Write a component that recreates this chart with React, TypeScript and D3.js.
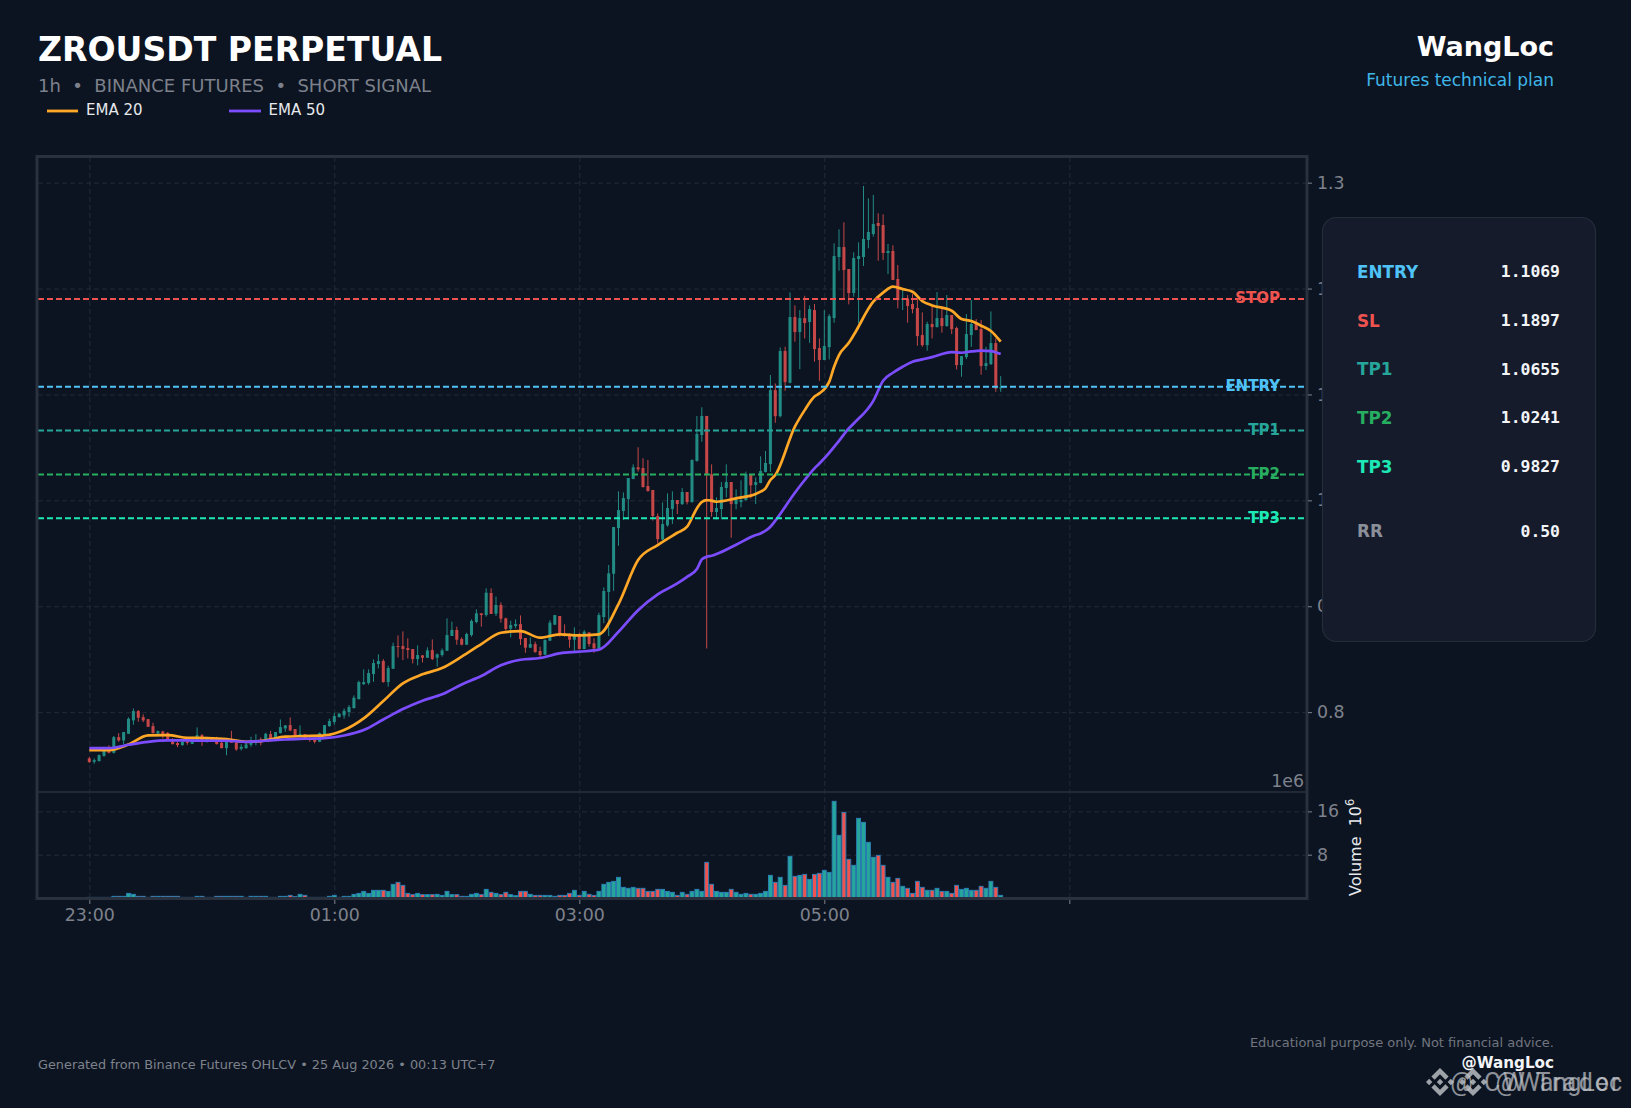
import { useEffect, useRef } from 'react';
import * as d3 from 'd3';

const opens = [.7563,.7531,.7538,.7588,.7667,.7616,.7764,.7733,.7796,.7922,.8010,.7953,.7934,.7868,.7799,.7818,.7805,.7723,.7708,.7689,.7723,.7701,.7736,.7783,.7736,.7749,.7727,.7711,.7660,.7742,.7714,.7654,.7660,.7692,.7714,.7727,.7736,.7793,.7752,.7802,.7846,.7878,.7840,.7768,.7793,.7752,.7742,.7720,.7793,.7868,.7906,.7953,.7969,.8001,.8038,.8123,.8265,.8275,.8360,.8454,.8483,.8284,.8410,.8624,.8624,.8605,.8596,.8501,.8536,.8514,.8586,.8514,.8539,.8580,.8719,.8776,.8690,.8637,.8728,.8851,.8933,.8917,.9125,.8930,.9012,.8886,.8788,.8813,.8832,.8700,.8609,.8643,.8577,.8542,.8675,.8826,.8908,.8744,.8728,.8684,.8728,.8596,.8753,.8650,.8602,.8898,.9135,.9307,.9738,.9899,1.0012,1.0201,1.0312,1.0305,1.0135,1.0098,.9852,.9631,.9764,.9918,1.0003,.9965,1.0079,.9984,1.0372,1.0617,1.0797,1.0246,.9890,.9918,1.0116,1.0173,.9965,.9984,1.0003,1.0239,1.0145,1.0164,1.0268,1.0342,1.1041,1.0795,1.1410,1.1110,1.1731,1.1589,1.1721,1.1684,1.1797,1.1438,1.1325,1.1447,1.1721,1.2298,1.2392,1.2184,1.1958,1.2279,1.2298,1.2459,1.2515,1.2619,1.2600,1.2336,1.2355,1.2090,1.1892,1.1907,1.1854,1.1816,1.1561,1.1466,1.1665,1.1636,1.1721,1.1646,1.1750,1.1627,1.1277,1.1353,1.1561,1.1665,1.1617,1.1268,1.1287,1.1485,1.1057];
const closes = [.7528,.7547,.7594,.7657,.7616,.7764,.7733,.7812,.7938,.8010,.7947,.7922,.7862,.7802,.7821,.7783,.7736,.7698,.7689,.7720,.7711,.7733,.7783,.7736,.7752,.7730,.7698,.7660,.7720,.7711,.7648,.7673,.7695,.7720,.7723,.7714,.7796,.7736,.7812,.7859,.7875,.7827,.7780,.7793,.7752,.7736,.7720,.7802,.7878,.7916,.7963,.7985,.8013,.8048,.8136,.8284,.8284,.8369,.8464,.8483,.8284,.8416,.8624,.8618,.8596,.8586,.8501,.8539,.8514,.8583,.8501,.8546,.8583,.8728,.8776,.8684,.8637,.8738,.8861,.8933,.8917,.9128,.8927,.9012,.8883,.8785,.8823,.8832,.8690,.8609,.8643,.8568,.8539,.8681,.8845,.8917,.8744,.8735,.8684,.8719,.8596,.8760,.8643,.8602,.8917,.9144,.9311,.9748,.9908,1.0022,1.0211,1.0312,1.0293,1.0126,1.0088,.9852,.9634,.9776,.9927,1.0003,.9965,1.0079,.9984,1.0381,1.0627,1.0797,1.0246,.9890,.9927,1.0126,1.0173,.9965,1.0003,1.0003,1.0249,1.0142,1.0173,1.0277,1.0353,1.1041,1.0795,1.1410,1.1117,1.1731,1.1589,1.1721,1.1674,1.1806,1.1428,1.1325,1.1457,1.1740,1.2307,1.2392,1.2175,1.1958,1.2288,1.2307,1.2468,1.2534,1.2610,1.2591,1.2336,1.2355,1.2081,1.1892,1.1907,1.1835,1.1806,1.1551,1.1466,1.1665,1.1636,1.1721,1.1646,1.1750,1.1617,1.1277,1.1362,1.1570,1.1665,1.1608,1.1268,1.1296,1.1485,1.1057,1.1066];
const highs = [.7579,.7563,.7601,.7673,.7686,.7774,.7802,.7812,.7950,.8035,.8020,.7979,.7934,.7900,.7827,.7824,.7812,.7755,.7723,.7736,.7752,.7768,.7856,.7793,.7768,.7755,.7768,.7736,.7752,.7824,.7736,.7698,.7720,.7768,.7793,.7761,.7805,.7824,.7812,.7931,.7878,.7950,.7840,.7875,.7793,.7768,.7768,.7808,.7878,.7938,.7994,.7994,.8035,.8067,.8158,.8297,.8404,.8404,.8498,.8546,.8501,.8438,.8656,.8725,.8763,.8697,.8596,.8631,.8539,.8612,.8687,.8555,.8602,.8886,.8854,.8807,.8706,.8750,.8876,.8971,.8933,.9169,.9169,.9091,.9037,.8892,.8864,.8876,.8914,.8700,.8706,.8665,.8618,.8687,.8867,.8917,.8908,.8829,.8744,.8801,.8750,.8776,.8753,.8697,.8939,.9179,.9390,.9748,1.0085,1.0075,1.0211,1.0340,1.0501,1.0397,1.0381,1.0098,.9877,.9981,1.0066,1.0085,1.0003,1.0116,1.0079,1.0387,1.0797,1.0879,1.0797,1.0340,1.0028,1.0173,1.0340,1.0173,1.0104,1.0189,1.0271,1.0239,1.0217,1.0416,1.0466,1.1183,1.1104,1.1444,1.1450,1.1964,1.1841,1.1797,1.1932,1.1841,1.1854,1.1529,1.1797,1.1759,1.2427,1.2559,1.2625,1.2184,1.2342,1.2436,1.2969,1.2852,1.2884,1.2711,1.2701,1.2421,1.2408,1.2222,1.1995,1.1939,1.1948,1.1932,1.1775,1.1687,1.1844,1.1967,1.1829,1.1939,1.1750,1.1640,1.1362,1.1759,1.1892,1.1712,1.1702,1.1450,1.1784,1.1529,1.1173];
const lows = [.7522,.7512,.7534,.7579,.7610,.7610,.7720,.7698,.7793,.7881,.7909,.7906,.7859,.7799,.7793,.7752,.7736,.7695,.7670,.7682,.7692,.7698,.7736,.7682,.7711,.7720,.7695,.7660,.7594,.7711,.7635,.7638,.7654,.7673,.7686,.7686,.7727,.7720,.7736,.7799,.7815,.7821,.7768,.7768,.7736,.7720,.7705,.7717,.7790,.7862,.7881,.7950,.7938,.7957,.8035,.8120,.8256,.8259,.8287,.8413,.8278,.8240,.8407,.8517,.8492,.8508,.8460,.8442,.8470,.8511,.8492,.8429,.8524,.8577,.8719,.8637,.8631,.8634,.8713,.8839,.8807,.8902,.8927,.8908,.8845,.8769,.8706,.8791,.8634,.8561,.8605,.8561,.8517,.8539,.8672,.8823,.8713,.8713,.8609,.8577,.8593,.8593,.8618,.8561,.8596,.8839,.8719,.9146,.9571,.9814,.9820,1.0201,1.0271,1.0120,1.0082,.9808,.9594,.9625,.9751,.9776,.9871,.9956,.9962,.9978,1.0365,1.0554,.8601,.9846,.9820,.9820,1.0028,.9647,.9915,.9934,.9997,1.0019,.9965,1.0161,1.0264,1.0269,1.0732,1.0783,1.1035,1.1104,1.1498,1.1239,1.1529,1.1488,1.1309,1.1129,1.1325,1.1331,1.1677,1.2169,1.1892,1.1851,1.1923,1.1671,1.2213,1.2380,1.2490,1.2263,1.2270,1.2137,1.2081,1.1813,1.1797,1.1677,1.1766,1.1460,1.1450,1.1413,1.1529,1.1633,1.1583,1.1640,1.1570,1.1236,1.1167,1.1334,1.1450,1.1608,1.1186,1.1230,1.1277,1.1025,1.1025];
// volume in millions
const volumes = [.12,.12,.12,.12,.12,.31,.31,.31,.86,.68,.31,.31,.12,.31,.31,.31,.31,.31,.31,.12,.12,.12,.31,.31,.12,.12,.31,.31,.31,.31,.31,.31,.12,.31,.31,.31,.31,.12,.12,.31,.31,.49,.25,.68,.49,.12,.12,.12,.12,.31,.49,.12,.31,.31,.68,.86,1.23,.86,1.42,1.42,1.42,1.23,2.53,2.90,2.34,.86,.62,.86,.62,.62,.62,.68,.49,1.23,.62,.62,.31,.31,.68,.86,.62,1.60,1.05,.86,.62,1.05,.62,.43,1.23,1.23,.68,.49,.49,.49,.49,.31,.49,.49,.86,1.42,.49,1.23,.68,.49,1.23,2.53,2.90,3.08,3.82,1.97,1.79,1.97,1.79,1.79,1.23,1.23,1.60,1.60,1.23,1.05,.49,1.05,.68,1.23,1.60,1.23,6.59,2.53,1.23,1.05,1.05,1.60,1.05,.68,.86,.68,.68,.86,1.23,4.19,2.90,3.82,2.34,7.70,4.00,4.19,4.37,3.45,4.37,4.56,5.11,4.74,17.86,11.58,15.83,7.15,6.04,14.72,13.98,10.29,7.52,7.88,6.04,3.82,2.90,3.63,2.16,1.79,.86,3.08,1.97,1.42,1.42,1.79,1.23,1.23,.86,2.34,1.60,1.79,1.42,1.42,2.16,1.79,3.08,1.97,.49];

const emaIndex = [0,4,8,12,16,20,24,28,32,36,40,44,48,52,56,60,64,68,72,76,80,84,88,92,96,100,104,108,112,116,120,122,124,125,126,127,128,132,136,137,138,139,140,144,146,148,149,151,152,153,155,156,160,162,164,166,168,170,172,176,178,180,182,184,186];
const ema20 = [.7642,.7642,.7695,.7780,.7783,.7758,.7755,.7745,.7720,.7733,.7768,.7774,.7780,.7831,.7941,.8105,.8272,.8357,.8416,.8524,.8643,.8750,.8766,.8703,.8735,.8725,.8735,.9020,.9436,.9578,.9694,.9751,.9924,.9984,1.0003,.9997,.9987,1.0019,1.0060,1.0082,1.0113,1.0192,1.0239,1.0696,1.0852,1.0980,1.1010,1.1120,1.1262,1.1372,1.1488,1.1561,1.1876,1.1961,1.2018,1.1995,1.1970,1.1882,1.1841,1.1791,1.1712,1.1693,1.1649,1.1599,1.1498];
const ema50 = [.7660,.7660,.7692,.7720,.7733,.7733,.7730,.7730,.7720,.7730,.7742,.7749,.7755,.7780,.7831,.7931,.8029,.8108,.8168,.8262,.8341,.8442,.8495,.8511,.8555,.8571,.8590,.8759,.8963,.9112,.9216,.9278,.9351,.9442,.9467,.9477,.9493,.9581,.9672,.9688,.9713,.9751,.9808,1.0072,1.0192,1.0302,1.0348,1.0449,1.0505,1.0562,1.0679,1.0726,1.0940,1.1129,1.1205,1.1262,1.1309,1.1331,1.1353,1.1400,1.1394,1.1406,1.1413,1.1410,1.1381];

const priceTicks = [0.8, 0.9, 1.0, 1.1, 1.2, 1.3];
const volumeTicks = [8, 16];
const timeTicks = [0, 50, 100, 150, 200];
const timeLabels = ['23:00', '01:00', '03:00', '05:00', ''];

const levelNames = ['STOP', 'ENTRY', 'TP1', 'TP2', 'TP3'];
const levelPrices = [1.1897, 1.1069, 1.0655, 1.0241, 0.9827];
const levelColors = ['#ef5350', '#4fc3f7', '#26a69a', '#27ae60', '#1de9b6'];

const panelLabels = ['ENTRY', 'SL', 'TP1', 'TP2', 'TP3', 'RR'];
const panelValues = ['1.1069', '1.1897', '1.0655', '1.0241', '0.9827', '0.50'];
const panelColors = ['#4fc3f7', '#ef5350', '#26a69a', '#27ae60', '#1de9b6', '#8b8f9a'];
const panelRows = [271.5, 320.5, 369, 417.5, 466.5, 531];

const BG = '#0d1421';
const UP = '#26a69a';
const DOWN = '#ef5350';
const LOGO = 'M38.73 53.2l24.59-24.58 24.6 24.6 14.3-14.31L63.32 0 24.42 38.9zM0 63.31l14.3-14.31 14.31 14.31-14.31 14.3zM38.73 73.41l24.59 24.59 24.6-24.6 14.31 14.29-38.9 38.91-38.91-38.88zM98 63.31l14.3-14.31 14.31 14.3-14.31 14.32zM77.83 63.3L63.32 48.78 52.59 59.51l-1.24 1.23-2.54 2.54 14.51 14.52L77.83 63.31z';

export default function App() {
  const svgRef = useRef<SVGSVGElement | null>(null);

  useEffect(() => {
    if (!svgRef.current) return;
    const svg = d3.select(svgRef.current);
    svg.selectAll('*').remove();

    const width = 1631;
    const height = 1108;
    const frame = { left: 37, right: 1307, top: 156.5, split: 792, bottom: 898 };
    const font = '"DejaVu Sans", sans-serif';

    svg.attr('viewBox', `0 0 ${width} ${height}`).style('font-family', font);
    svg.append('rect').attr('width', width).attr('height', height).attr('fill', BG);

    const x = d3.scaleLinear().domain([-10.47, 248.51]).range([38, 1307]);
    const y = d3.scaleLinear().domain([0.7246, 1.3247]).range([frame.split, frame.top]);
    const yVol = d3.scaleLinear().domain([0, 19.58]).range([frame.bottom, frame.split]);

    // grid
    const styleGrid = (g: any) => {
      g.select('.domain').remove();
      g.selectAll('line').attr('stroke', '#222a37').attr('stroke-width', 1).attr('stroke-dasharray', '5,3');
    };
    svg.append('g')
      .attr('transform', `translate(0,${frame.bottom})`)
      .call(d3.axisBottom(x).tickValues(timeTicks).tickSize(-(frame.bottom - frame.top)).tickFormat(() => ''))
      .call(styleGrid);
    svg.append('g')
      .attr('transform', `translate(${frame.right},0)`)
      .call(d3.axisLeft(y).tickValues(priceTicks).tickSize(frame.right - frame.left).tickFormat(() => ''))
      .call(styleGrid);
    svg.append('g')
      .attr('transform', `translate(${frame.right},0)`)
      .call(d3.axisLeft(yVol).tickValues(volumeTicks).tickSize(frame.right - frame.left).tickFormat(() => ''))
      .call(styleGrid);

    // candles
    const candles = svg.append('g').attr('opacity', 0.82);
    const bodyW = x(0.62) - x(0);
    opens.forEach((o, i) => {
      const c = closes[i];
      const color = c >= o ? UP : DOWN;
      candles.append('line')
        .attr('x1', x(i)).attr('x2', x(i))
        .attr('y1', y(highs[i])).attr('y2', y(lows[i]))
        .attr('stroke', color).attr('stroke-width', 1);
      candles.append('rect')
        .attr('x', x(i) - bodyW / 2)
        .attr('y', y(Math.max(o, c)))
        .attr('width', bodyW)
        .attr('height', Math.max(1, Math.abs(y(o) - y(c))))
        .attr('fill', color);
    });

    // volume bars
    const volW = x(0.8) - x(0);
    svg.append('g')
      .selectAll('rect')
      .data(volumes)
      .join('rect')
      .attr('x', (_, i) => x(i) - volW / 2)
      .attr('y', (d) => yVol(d))
      .attr('width', volW)
      .attr('height', (d) => yVol(0) - yVol(d))
      .attr('fill', (_, i) => (closes[i] >= opens[i] ? UP : DOWN))
      .attr('stroke', '#2a80b9')
      .attr('stroke-width', 0.9);

    // EMAs
    const emaLine = d3.line<number>()
      .x((_, i) => x(emaIndex[i]))
      .y((d) => y(d))
      .curve(d3.curveMonotoneX);
    svg.append('path').attr('d', emaLine(ema20) ?? '').attr('fill', 'none').attr('stroke', '#ffa726').attr('stroke-width', 2.7);
    svg.append('path').attr('d', emaLine(ema50) ?? '').attr('fill', 'none').attr('stroke', '#7c4dff').attr('stroke-width', 2.7);

    // level labels then dashed lines over them
    levelNames.forEach((name, i) => {
      svg.append('text')
        .attr('x', 1280)
        .attr('y', y(levelPrices[i]) - 1.5)
        .attr('dy', '0.36em')
        .attr('text-anchor', 'end')
        .attr('font-size', 15)
        .attr('font-weight', 700)
        .attr('fill', levelColors[i])
        .text(name);
      svg.append('line')
        .attr('x1', frame.left + 1).attr('x2', frame.right)
        .attr('y1', y(levelPrices[i]) - 0.4).attr('y2', y(levelPrices[i]) - 0.4)
        .attr('stroke', levelColors[i])
        .attr('stroke-width', 2)
        .attr('stroke-dasharray', '6,3');
    });

    // frame and split
    svg.append('rect')
      .attr('x', frame.left).attr('y', frame.top)
      .attr('width', frame.right - frame.left).attr('height', frame.bottom + 0.5 - frame.top)
      .attr('fill', 'none').attr('stroke', '#2a313e').attr('stroke-width', 3);
    svg.append('line')
      .attr('x1', frame.left).attr('x2', frame.right)
      .attr('y1', frame.split).attr('y2', frame.split)
      .attr('stroke', '#2a313e').attr('stroke-width', 1.5);

    // axes
    const styleAxis = (g: any) => {
      g.select('.domain').remove();
      g.selectAll('line').attr('stroke', '#7d828c').attr('stroke-width', 1);
      g.selectAll('text').attr('fill', '#7d828c').attr('font-size', 17.4).attr('font-family', font);
    };
    svg.append('g')
      .attr('transform', `translate(${frame.right + 1},0)`)
      .call(d3.axisRight(y).tickValues(priceTicks).tickSize(4).tickPadding(5).tickFormat(d3.format('.1f') as any))
      .call(styleAxis);
    svg.append('g')
      .attr('transform', `translate(${frame.right + 1},0)`)
      .call(d3.axisRight(yVol).tickValues(volumeTicks).tickSize(4).tickPadding(5).tickFormat((d) => String(d)))
      .call(styleAxis);
    svg.append('g')
      .attr('transform', `translate(0,${frame.bottom + 2})`)
      .call(d3.axisBottom(x).tickValues(timeTicks).tickSize(4).tickPadding(5).tickFormat((_, i) => timeLabels[i]))
      .call(styleAxis);

    svg.append('text').attr('x', 1304).attr('y', 781).attr('dy', '0.36em').attr('text-anchor', 'end')
      .attr('font-size', 17.4).attr('fill', '#7d828c').text('1e6');

    const volLabel = svg.append('text')
      .attr('transform', 'translate(1361,896) rotate(-90)')
      .attr('font-size', 16).attr('fill', '#e6e8ec').style('white-space', 'pre');
    volLabel.append('tspan').text('Volume  10');
    volLabel.append('tspan').attr('dy', -7).attr('font-size', 11.5).text('6');

    // side panel
    svg.append('rect')
      .attr('x', 1322.5).attr('y', 217.5)
      .attr('width', 273).attr('height', 424)
      .attr('rx', 14)
      .attr('fill', '#151b2b').attr('stroke', '#252c3a').attr('stroke-width', 1.2);
    panelLabels.forEach((label, i) => {
      svg.append('text').attr('x', 1357).attr('y', panelRows[i]).attr('dy', '0.36em')
        .attr('font-size', 16.8).attr('font-weight', 700).attr('fill', panelColors[i]).text(label);
      svg.append('text').attr('x', 1560).attr('y', panelRows[i]).attr('dy', '0.36em')
        .attr('text-anchor', 'end').attr('font-family', '"DejaVu Sans Mono", monospace')
        .attr('font-size', 16.4).attr('font-weight', 700).attr('fill', '#f2f4f7').text(panelValues[i]);
    });

    // header
    svg.append('text').attr('x', 38).attr('y', 61).attr('font-size', 33.1).attr('font-weight', 700).attr('fill', '#fff').text('ZROUSDT PERPETUAL');
    svg.append('text').attr('x', 38).attr('y', 92).attr('font-size', 18).attr('fill', '#7c818c').style('white-space', 'pre')
      .text('1h  •  BINANCE FUTURES  •  SHORT SIGNAL');
    svg.append('text').attr('x', 1554).attr('y', 56).attr('text-anchor', 'end').attr('font-size', 27).attr('font-weight', 700).attr('fill', '#fff').text('WangLoc');
    svg.append('text').attr('x', 1554).attr('y', 86).attr('text-anchor', 'end').attr('font-size', 17).attr('fill', '#3fb6e8').text('Futures technical plan');

    // legend
    svg.append('line').attr('x1', 47).attr('x2', 78).attr('y1', 111).attr('y2', 111).attr('stroke', '#ffa726').attr('stroke-width', 2.8);
    svg.append('text').attr('x', 86).attr('y', 115).attr('font-size', 15).attr('fill', '#e6e8ec').text('EMA 20');
    svg.append('line').attr('x1', 229).attr('x2', 261).attr('y1', 111).attr('y2', 111).attr('stroke', '#7c4dff').attr('stroke-width', 2.8);
    svg.append('text').attr('x', 268.5).attr('y', 115).attr('font-size', 15).attr('fill', '#e6e8ec').text('EMA 50');

    // footer
    svg.append('text').attr('x', 38).attr('y', 1069).attr('font-size', 12.85).attr('fill', '#7d828c')
      .text('Generated from Binance Futures OHLCV • 25 Aug 2026 • 00:13 UTC+7');
    svg.append('text').attr('x', 1554).attr('y', 1047).attr('text-anchor', 'end').attr('font-size', 13).attr('fill', '#70757f')
      .text('Educational purpose only. Not financial advice.');
    svg.append('text').attr('x', 1554).attr('y', 1068).attr('text-anchor', 'end').attr('font-size', 15.2).attr('font-weight', 700).attr('fill', '#f2f4f7').text('@WangLoc');

    // watermark
    [1426, 1459].forEach((lx) => {
      svg.append('path').attr('d', LOGO)
        .attr('transform', `translate(${lx},1068) scale(0.221)`)
        .attr('fill', '#b9bcc2').attr('opacity', 0.85);
    });
    ['@ CW Trader', '@WangLoc'].forEach((t, i) => {
      svg.append('text').attr('x', 1622).attr('y', 1091).attr('text-anchor', 'end')
        .attr('font-family', 'Roboto, sans-serif').attr('font-size', 25)
        .attr('letter-spacing', i === 0 ? 2.5 : 0)
        .attr('fill', '#c4c7cc').attr('opacity', 0.7).text(t);
    });
  }, []);

  return (
    <svg
      ref={svgRef}
      width={1631}
      height={1108}
      style={{ position: 'absolute', left: 0, top: 0, display: 'block' }}
      role="img"
      aria-label="ZROUSDT chart"
    />
  );
}
